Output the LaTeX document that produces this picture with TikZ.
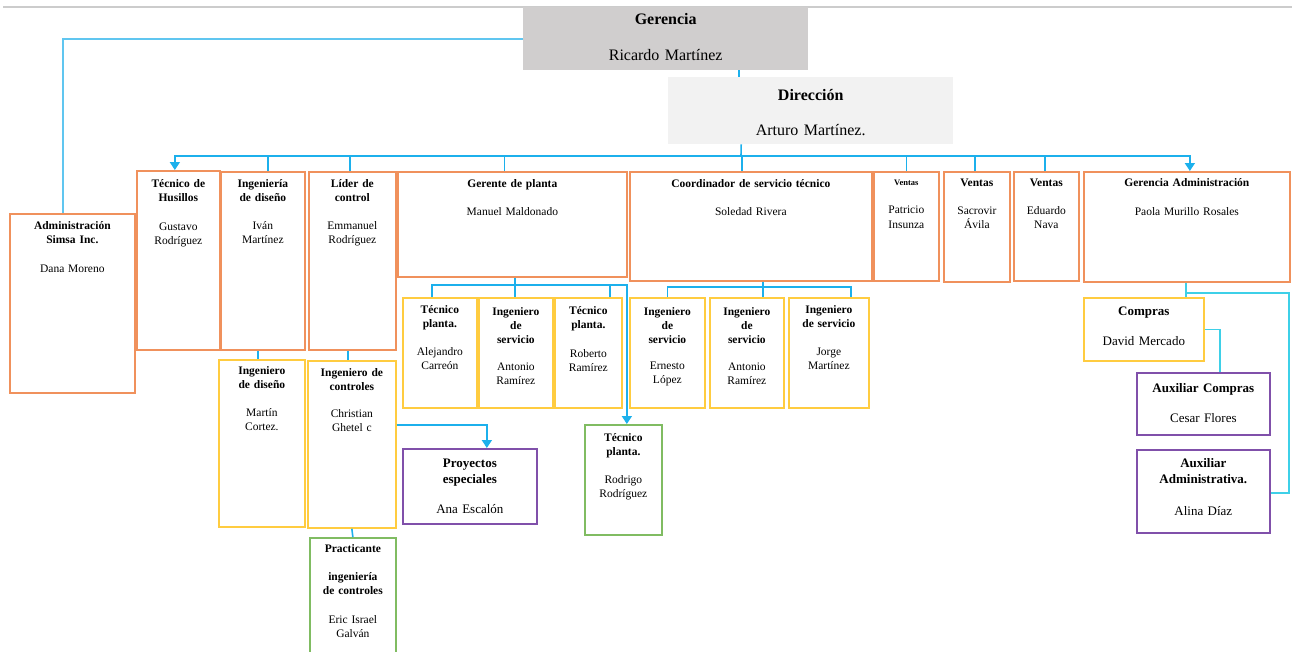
\documentclass[tikz,border=0pt]{standalone}
\usepackage{fontspec}
\setmainfont{Liberation Serif}
\usetikzlibrary{arrows.meta,calc}

\definecolor{orgc}{RGB}{240,145,92}
\definecolor{yelc}{RGB}{255,204,64}
\definecolor{purc}{RGB}{128,80,170}
\definecolor{grnc}{RGB}{128,188,98}
\definecolor{linec}{RGB}{28,176,236}
\definecolor{cyanc}{RGB}{62,208,232}
\definecolor{lightc}{RGB}{96,198,240}
\definecolor{gerfill}{RGB}{208,206,206}
\definecolor{dirfill}{RGB}{242,242,242}

% box: name, x1, y1, x2, y2, box style, text style, baseline offset, text
\newcommand\orgbox[9]{%
  \pgfmathsetlengthmacro\obw{(#4-#2)*1pt}%
  \node[#6, minimum width=\obw, minimum height={(#5-#3)*1pt}, anchor=north west] (#1) at (#2,#3) {};
  \node[txt, #7, text width=\obw] (#1-t) at ($(#1.north)+(0,#8)$) {#9};
}

\begin{document}
\begin{tikzpicture}[x=1pt,y=-1pt,
  box/.style={draw, line width=1.7pt, inner sep=0pt, fill=white},
  org/.style={box, draw=orgc},
  yel/.style={box, draw=yelc},
  pur/.style={box, draw=purc},
  grn/.style={box, draw=grnc},
  txt/.style={anchor=base, align=center, inner sep=0pt,
    font=\fontsize{11.5}{14.3}\selectfont},
  big/.style={font=\fontsize{13}{16}\selectfont},
  mid/.style={font=\fontsize{13}{15}\selectfont},
  head/.style={font=\fontsize{16}{17}\selectfont},
  conn/.style={draw=linec, line width=1.6pt},
  conn2/.style={draw=cyanc, line width=1.6pt},
  connl/.style={draw=lightc, line width=1.9pt},
  arr/.style={-{Triangle[width=10pt,length=8pt]}},
]
\useasboundingbox (0,0) rectangle (1292,651);
\fill[white] (0,0) rectangle (1292,651);
\draw[black!20, line width=1.2pt] (3,7) -- (1292,7);

% top management
\orgbox{ger}{523}{7}{808}{70}{fill=gerfill, inner sep=0pt}{head}{17}{\textbf{Gerencia}\\[19.5pt]Ricardo Martínez}
\orgbox{dir}{668}{77}{953}{144}{fill=dirfill, inner sep=0pt}{head}{23}{\textbf{Dirección}\\[18pt]Arturo Martínez.}

% first level
\orgbox{adm}{9}{213}{134}{392}{org}{}{16}{{\bfseries Administración\\Simsa Inc.}\\[14.7pt]Dana Moreno}
\orgbox{tec}{136}{170}{219}{349}{org}{}{17}{{\bfseries Técnico de\\Husillos}\\[14.7pt]Gustavo\\Rodríguez}
\orgbox{ing}{220}{171}{304}{349}{org}{}{16}{{\bfseries Ingeniería\\de diseño}\\[13.7pt]Iván\\Martínez}
\orgbox{lid}{308}{171}{395}{349}{org}{}{16}{{\bfseries Líder de\\control}\\[13.7pt]Emmanuel\\Rodríguez}
\orgbox{gpl}{397}{171}{626}{276}{org}{}{16}{\textbf{Gerente de planta}\\[13.7pt]Manuel Maldonado}
\orgbox{coo}{629}{171}{871}{280}{org}{}{16}{\textbf{Coordinador de servicio técnico}\\[13.7pt]Soledad Rivera}
\orgbox{va}{873}{171}{938}{280}{org}{}{14.5}{{\fontsize{8.5}{10}\selectfont\bfseries Ventas}\\[14pt]Patricio\\Insunza}
\orgbox{vb}{943}{171}{1009}{281}{org}{}{15}{\textbf{Ventas}\\[13.7pt]Sacrovir\\Ávila}
\orgbox{vc}{1013}{171}{1078}{280}{org}{}{15}{\textbf{Ventas}\\[13.7pt]Eduardo\\Nava}
\orgbox{gad}{1083}{171}{1289}{281}{org}{}{15}{\textbf{Gerencia Administración}\\[14.7pt]Paola Murillo Rosales}

% second level
\orgbox{idi}{218}{359}{304}{526}{yel}{}{15}{{\bfseries Ingeniero\\de diseño}\\[13.7pt]Martín\\Cortez.}
\orgbox{ico}{307}{360}{395}{527}{yel}{}{16}{{\bfseries Ingeniero de\\controles}\\[12.7pt]Christian\\Ghetel c}
\orgbox{tpa}{402}{297}{476}{407}{yel}{}{16}{{\bfseries Técnico\\planta.}\\[13.7pt]Alejandro\\Carreón}
\orgbox{ias}{478}{297}{552}{407}{yel}{}{18}{{\bfseries Ingeniero\\de\\servicio}\\[12.7pt]Antonio\\Ramírez}
\orgbox{tpr}{554}{297}{621}{407}{yel}{}{17}{{\bfseries Técnico\\planta.}\\[14.7pt]Roberto\\Ramírez}
\orgbox{ies}{629}{297}{704}{407}{yel}{}{18}{{\bfseries Ingeniero\\de\\servicio}\\[11.7pt]Ernesto\\López}
\orgbox{isb}{709}{297}{783}{407}{yel}{}{18}{{\bfseries Ingeniero\\de\\servicio}\\[12.7pt]Antonio\\Ramírez}
\orgbox{ijm}{788}{297}{868}{407}{yel}{}{16}{{\bfseries Ingeniero\\de servicio}\\[13.7pt]Jorge\\Martínez}
\orgbox{com}{1083}{297}{1203}{360}{yel}{mid}{18}{\textbf{Compras}\\[15pt]David Mercado}

% third level
\orgbox{rod}{584}{424}{661}{534}{grn}{}{17}{{\bfseries Técnico\\planta.}\\[13.7pt]Rodrigo\\Rodríguez}
\orgbox{pro}{402}{448}{536}{523}{pur}{big}{19}{{\bfseries Proyectos\\especiales}\\[14pt]Ana Escalón}
\orgbox{pra}{309}{537}{395}{662}{grn}{}{15}{{\bfseries Practicante\\[13.7pt]ingeniería\\de controles}\\[14.7pt]Eric Israel\\Galván}
\orgbox{aco}{1136}{372}{1269}{434}{pur}{mid}{20}{\textbf{Auxiliar Compras}\\[15pt]Cesar Flores}
\orgbox{aad}{1136}{449}{1269}{532}{pur}{big}{18}{{\bfseries Auxiliar\\Administrativa.}\\[16pt]Alina Díaz}

% connectors from the top
\draw[conn] ([xshift=73.5pt]ger.south) -- ([xshift=-71.5pt]dir.north);
\draw[connl] (ger.west) -| ([xshift=-9.5pt]adm.north);
\coordinate (bus) at (741,156);
\draw[conn] ([xshift=-69.5pt]dir.south) -- (bus);
\draw[conn,arr] (bus) -| ([xshift=-3.5pt]tec.north);
\draw[conn,arr] (bus) -| ([xshift=3pt]gad.north);
\draw[conn] ([xshift=5pt]ing.north) -- ++(0,-15);
\draw[conn] ([xshift=-2.5pt]lid.north) -- ++(0,-15);
\draw[conn] ([xshift=-8pt]gpl.north) -- ++(0,-15);
\draw[conn] ([xshift=-9pt]coo.north) -- ++(0,-15);
\draw[conn] (va.north) -- ++(0,-15);
\draw[conn] ([xshift=-2pt]vb.north) -- ++(0,-15);
\draw[conn] ([xshift=-1.5pt]vc.north) -- ++(0,-15);

% design and control
\draw[conn] ([xshift=-5pt]ing.south) -- ([xshift=-4pt]idi.north);
\draw[conn] ([xshift=-4.5pt]lid.south) -- ([xshift=-4pt]ico.north);
\draw[conn] (ico.south) -- (pra.north);
\draw[conn,arr] ([yshift=19.5pt]ico.east) -| ([xshift=17pt]pro.north);

% plant
\draw[conn] ([xshift=2.5pt]gpl.south) -- ([xshift=-1pt]ias.north);
\draw[conn,arr] ([xshift=-8pt]tpa.north) -- ++(0,-12) -| ([xshift=3.5pt]rod.north);
\draw[conn] ([xshift=21.5pt]tpr.north) -- ++(0,-12);

% technical service
\draw[conn] ([xshift=12pt]coo.south) -- ([xshift=16pt]isb.north);
\draw[conn] (ies.north) -- ++(0,-10) -| ([xshift=22pt]ijm.north);

% administration
\draw[conn2] ([xshift=-1pt]gad.south) -- ([xshift=42pt]com.north);
\draw[conn2] ([xshift=-1pt]gad.south) ++(0,10) -- ++(103,0) |- ([yshift=-1.5pt]aad.east);
\draw[conn2] (com.east) -| ([xshift=16.5pt]aco.north);
\end{tikzpicture}
\end{document}
